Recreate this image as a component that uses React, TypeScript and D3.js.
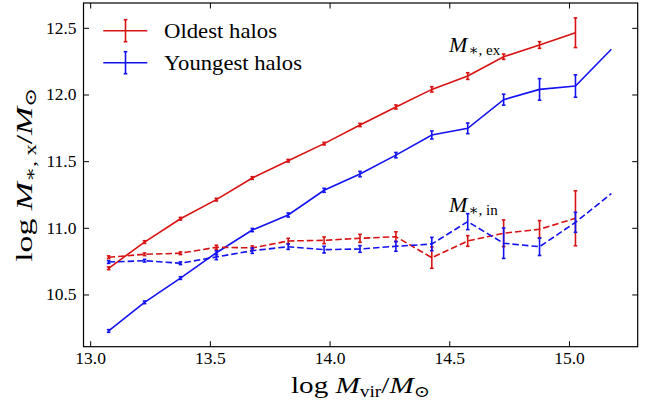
import React from "react";
import * as d3 from "d3";

const xs = [13.075, 13.225, 13.375, 13.525, 13.675, 13.825, 13.975, 14.125, 14.275, 14.425, 14.575, 14.725, 14.875, 15.025, 15.175];

const oldEx = [10.70, 10.897, 11.072, 11.215, 11.377, 11.507, 11.635, 11.775, 11.91, 12.042, 12.142, 12.287, 12.375, 12.467];
const oldExErr = [0.01, 0.01, 0.01, 0.01, 0.01, 0.01, 0.01, 0.012, 0.015, 0.02, 0.025, 0.02, 0.025, 0.111];

const youngEx = [10.23, 10.445, 10.627, 10.817, 10.987, 11.10, 11.285, 11.407, 11.549, 11.70, 11.75, 11.965, 12.042, 12.067, 12.343];
const youngExErr = [0.01, 0.01, 0.01, 0.015, 0.012, 0.015, 0.015, 0.02, 0.02, 0.03, 0.04, 0.041, 0.081, 0.084, 0];

const oldIn = [10.783, 10.805, 10.813, 10.858, 10.853, 10.905, 10.91, 10.925, 10.937, 10.78, 10.905, 10.963, 10.993, 11.075];
const oldInErr = [0.01, 0.01, 0.01, 0.015, 0.015, 0.02, 0.025, 0.03, 0.037, 0.08, 0.04, 0.1, 0.065, 0.206];

const youngIn = [10.747, 10.757, 10.738, 10.785, 10.832, 10.862, 10.84, 10.845, 10.865, 10.882, 11.05, 10.888, 10.862, 11.045, 11.26];
const youngInErr = [0.01, 0.01, 0.01, 0.02, 0.02, 0.02, 0.025, 0.025, 0.037, 0.05, 0.06, 0.114, 0.066, 0.075, 0];

const xTicks = [13.0, 13.5, 14.0, 14.5, 15.0];
const yTicks = [10.5, 11.0, 11.5, 12.0, 12.5];
const legendLabels = ["Oldest halos", "Youngest halos"];
const legendWidths = [113, 138];

const RED = "#d81212";
const BLUE = "#1212f2";
const FONT = "'Liberation Serif', 'DejaVu Serif', serif";

const W = 652, H = 403;
const L = 83.5, R = 637.7, T = 3, B = 346.7;

export default function App() {
  const x = d3.scaleLinear().domain([12.97, 15.285]).range([L, R]);
  const y = d3.scaleLinear().domain([10.112, 12.69]).range([B, T]);
  const line = d3.line<[number, number]>().x(d => x(d[0])).y(d => y(d[1]));

  const series = [
    { v: oldEx, e: oldExErr, c: RED, dash: undefined },
    { v: youngEx, e: youngExErr, c: BLUE, dash: undefined },
    { v: oldIn, e: oldInErr, c: RED, dash: "6.5,3" },
    { v: youngIn, e: youngInErr, c: BLUE, dash: "6.5,3" },
  ];

  const cap = 1.8;
  const lw = 1.6;

  return (
    <svg width={W} height={H} style={{ display: "block", position: "absolute", left: 0, top: 0 }} fontFamily={FONT}>
      <rect x={0} y={0} width={W} height={H} fill="white" />
      {series.map((s, si) => (
        <g key={si}>
          <path d={line(s.v.map((v, i) => [xs[i], v] as [number, number])) || ""} fill="none" stroke={s.c} strokeWidth={lw} strokeDasharray={s.dash} />
          {s.v.map((v, i) => {
            const e = s.e[i];
            if (!e) return null;
            const px = x(xs[i]);
            const y1 = y(v - e), y2 = y(v + e);
            return (
              <g key={i} stroke={s.c} strokeWidth={lw}>
                <line x1={px} x2={px} y1={y1} y2={y2} />
                <line x1={px - cap} x2={px + cap} y1={y1} y2={y1} />
                <line x1={px - cap} x2={px + cap} y1={y2} y2={y2} />
              </g>
            );
          })}
        </g>
      ))}

      {/* frame */}
      <rect x={L} y={T} width={R - L} height={B - T} fill="none" stroke="black" strokeWidth={1.2} />
      {xTicks.map(t => (
        <g key={"x" + t}>
          <line x1={x(t)} x2={x(t)} y1={B} y2={B - 5.5} stroke="black" strokeWidth={1} />
          <line x1={x(t)} x2={x(t)} y1={T} y2={T + 5.5} stroke="black" strokeWidth={1} />
          <text x={x(t)} y={B + 17} fontSize={17.5} textAnchor="middle">{t.toFixed(1)}</text>
        </g>
      ))}
      {yTicks.map(t => (
        <g key={"y" + t}>
          <line x1={L} x2={L + 5.5} y1={y(t)} y2={y(t)} stroke="black" strokeWidth={1} />
          <line x1={R} x2={R - 5.5} y1={y(t)} y2={y(t)} stroke="black" strokeWidth={1} />
          <text x={L - 7} y={y(t) + 5.5} fontSize={17.5} textAnchor="end">{t.toFixed(1)}</text>
        </g>
      ))}

      {/* legend */}
      {legendLabels.map((lab, i) => {
        const ly = 30.7 + i * 32;
        const c = i === 0 ? RED : BLUE;
        return (
          <g key={lab}>
            <line x1={103.3} x2={147.3} y1={ly} y2={ly} stroke={c} strokeWidth={lw} />
            <line x1={125.5} x2={125.5} y1={ly - 11} y2={ly + 11} stroke={c} strokeWidth={lw} />
            <line x1={125.5 - cap} x2={125.5 + cap} y1={ly - 11} y2={ly - 11} stroke={c} strokeWidth={lw} />
            <line x1={125.5 - cap} x2={125.5 + cap} y1={ly + 11} y2={ly + 11} stroke={c} strokeWidth={lw} />
            <text x={164} y={ly + 7.5} fontSize={22} textLength={legendWidths[i]} lengthAdjust="spacingAndGlyphs">{lab}</text>
          </g>
        );
      })}

      {/* annotations */}
      <text x={449} y={51.7} fontSize={22}>
        <tspan fontStyle="italic">M</tspan>
        <tspan fontSize={15} dy={3} dx={1}>∗, ex</tspan>
      </text>
      <text x={449} y={212.3} fontSize={22}>
        <tspan fontStyle="italic">M</tspan>
        <tspan fontSize={15} dy={3} dx={1}>∗, in</tspan>
      </text>

      {/* x label */}
      <text x={291} y={393} fontSize={24} textLength={139} lengthAdjust="spacingAndGlyphs">
        <tspan>log </tspan>
        <tspan fontStyle="italic">M</tspan>
        <tspan fontSize={16} dy={4}>vir</tspan>
        <tspan dy={-4}>/</tspan>
        <tspan fontStyle="italic">M</tspan>
        <tspan fontSize={16} dy={4}>⊙</tspan>
      </text>

      {/* y label */}
      <text transform={`translate(32, ${(T + B) / 2 + 87}) rotate(-90)`} fontSize={24} textLength={174} lengthAdjust="spacingAndGlyphs">
        <tspan>log </tspan>
        <tspan fontStyle="italic">M</tspan>
        <tspan fontSize={16} dy={4}>∗, x</tspan>
        <tspan dy={-4}>/</tspan>
        <tspan fontStyle="italic">M</tspan>
        <tspan fontSize={16} dy={4}>⊙</tspan>
      </text>
    </svg>
  );
}
